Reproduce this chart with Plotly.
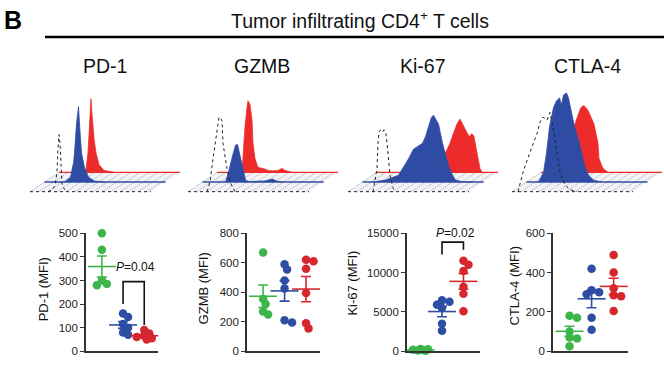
import numpy as np
import plotly.graph_objects as go

W, H = 664, 365
FONT = "Arial, 'Liberation Sans', Helvetica, sans-serif"

# ---------------- data ----------------
MARKERS = ["PD-1", "GZMB", "Ki-67", "CTLA-4"]
GROUPS = ["Group 1", "Group 2", "Group 3"]
GROUP_COLORS = ["#3DB54A", "#2D4EA2", "#D6262E"]
HIST_BLUE = "#2F4CA5"
HIST_RED = "#EE2B2B"

# scatter (MFI) values per group
PD1_G1 = [500, 430, 300, 285, 280]
PD1_G2 = [160, 145, 115, 100, 80, 70]
PD1_G3 = [90, 75, 65, 60, 55, 50]
GZMB_G1 = [670, 355, 320, 270, 250]
GZMB_G2 = [590, 555, 480, 425, 210, 195]
GZMB_G3 = [620, 610, 560, 395, 190, 155]
KI67_G1 = [300, 250, 200, 150, 100, 80]
KI67_G2 = [6500, 6300, 5900, 5500, 3500, 2600]
KI67_G3 = [11500, 11000, 10200, 8200, 7300, 5100]
CTLA4_G1 = [180, 170, 100, 70, 65, 25]
CTLA4_G2 = [420, 310, 300, 290, 170, 110]
CTLA4_G3 = [490, 400, 320, 285, 280, 205]

Y_MAX = [500, 800, 15000, 600]
Y_TICKS = [[0, 100, 200, 300, 400, 500], [0, 200, 400, 600, 800],
           [0, 5000, 10000, 15000], [0, 200, 400, 600]]
Y_TITLES = ["PD-1 (MFI)", "GZMB (MFI)", "Ki-67 (MFI)", "CTLA-4 (MFI)"]

# histograms: channel (relative fluorescence) and relative count
PD1_ISO_CH = [18, 22, 25, 27, 28, 29, 30, 31, 32, 34, 38]
PD1_ISO_H = [0, 2, 6, 20, 45, 59, 50, 25, 8, 3, 0]
PD1_BLUE_CH = [20, 26, 29, 30, 32, 34, 35, 37, 40, 44, 50, 60]
PD1_BLUE_H = [0, 5, 20, 30, 60, 78, 60, 30, 15, 5, 1, 0]
PD1_RED_CH = [22, 27, 29, 31, 32, 33, 35, 37, 40, 45, 55]
PD1_RED_H = [0, 3, 20, 55, 76, 60, 35, 20, 8, 2, 0]

GZMB_ISO_CH = [19, 22, 25, 29, 31, 34, 35, 39, 42, 47]
GZMB_ISO_H = [0, 10, 34, 64, 77, 74, 50, 24, 10, 0]
GZMB_BLUE_CH = [23, 26, 30, 33, 35, 37, 40, 43, 46, 55, 62, 66, 70, 74, 80]
GZMB_BLUE_H = [0, 10, 27, 38, 39, 30, 14, 2, 0.5, 0.5, 1, 2, 3, 1, 0]
GZMB_RED_CH = [25, 26, 28, 30, 31, 33, 35, 36, 38, 41, 46, 51, 56, 61, 65, 68, 75]
GZMB_RED_H = [0, 20, 47, 67, 74, 70, 54, 30, 14, 5, 4, 2, 1.5, 2, 4, 2, 0]

KI67_ISO_CH = [25, 29, 30, 31, 33, 35, 36, 38, 40, 42, 45, 47]
KI67_ISO_H = [0, 24, 50, 62, 64, 62, 64, 60, 40, 17, 4, 0]
KI67_BLUE_CH = [10, 23, 36, 41, 46, 51, 55, 60, 63, 66, 69, 71, 74, 76, 80, 83, 86, 90, 93, 100, 110]
KI67_BLUE_H = [0, 2, 7, 15, 24, 34, 37, 40, 47, 57, 67, 69, 64, 60, 40, 29, 17, 7, 2, 0.3, 0]
KI67_RED_CH = [60, 66, 68, 73, 76, 80, 83, 86, 90, 92, 95, 97, 100, 103, 105]
KI67_RED_H = [0, 0, 19, 30, 39, 50, 55, 49, 42, 37, 40, 37, 20, 4, 0]

CTLA4_ISO_CH = [6, 11, 16, 21, 25, 28, 31, 35, 38, 41, 45, 48, 53, 58, 65]
CTLA4_ISO_H = [0, 20, 35, 49, 60, 72, 77, 74, 82, 67, 40, 20, 7, 2, 0]
CTLA4_BLUE_CH = [12, 17, 20, 23, 27, 30, 33, 35, 37, 40, 42, 45, 48, 52, 55, 58, 62, 67, 75]
CTLA4_BLUE_H = [0, 10, 30, 57, 77, 84, 87, 80, 90, 92, 87, 70, 57, 44, 30, 17, 7, 2, 0]
CTLA4_RED_CH = [28, 33, 37, 40, 43, 47, 50, 53, 57, 58, 62, 67]
CTLA4_RED_H = [0, 47, 59, 67, 69, 64, 57, 50, 30, 14, 4, 0]

SCATTER = [[PD1_G1, PD1_G2, PD1_G3], [GZMB_G1, GZMB_G2, GZMB_G3],
           [KI67_G1, KI67_G2, KI67_G3], [CTLA4_G1, CTLA4_G2, CTLA4_G3]]
HISTS = [
    [(PD1_ISO_CH, PD1_ISO_H), (PD1_BLUE_CH, PD1_BLUE_H), (PD1_RED_CH, PD1_RED_H)],
    [(GZMB_ISO_CH, GZMB_ISO_H), (GZMB_BLUE_CH, GZMB_BLUE_H), (GZMB_RED_CH, GZMB_RED_H)],
    [(KI67_ISO_CH, KI67_ISO_H), (KI67_BLUE_CH, KI67_BLUE_H), (KI67_RED_CH, KI67_RED_H)],
    [(CTLA4_ISO_CH, CTLA4_ISO_H), (CTLA4_BLUE_CH, CTLA4_BLUE_H), (CTLA4_RED_CH, CTLA4_RED_H)],
]

# ---------------- layout helpers ----------------
def px_x(x):
    return x / W


def px_y(y):
    return 1 - y / H


def axn(kind, i):
    return kind + "axis" + ("" if i == 1 else str(i))


def ref(kind, i):
    return kind + ("" if i == 1 else str(i))


fig = go.Figure()
shapes = []
annotations = []
layout_axes = {}

# ---------- histogram panels (axes 1-4) ----------
HIST_X0 = [30, 188, 348, 512]     # px position of front baseline start
TITLE_X = [105, 262, 423, 587]
DX, DY, L = 14.5, 10, 121
for p in range(4):
    i = p + 1
    x0 = HIST_X0[p]
    left = x0 - 5
    right = min(x0 + 155, W)
    layout_axes[axn("x", i)] = dict(domain=[px_x(left), px_x(right)], range=[-5, right - x0],
                                    visible=False, fixedrange=True, anchor=ref("y", i))
    layout_axes[axn("y", i)] = dict(domain=[px_y(200), px_y(85)], range=[-8, 107],
                                    visible=False, fixedrange=True, anchor=ref("x", i))
    xr, yr = ref("x", i), ref("y", i)
    # floor
    shapes.append(dict(type="path", xref=xr, yref=yr, layer="below",
                       path=f"M 0 0 L {L} 0 L {L+2*DX} {2*DY} L {2*DX} {2*DY} Z",
                       fillcolor="rgba(234,235,240,0.6)", line=dict(width=0)))
    for s in np.arange(0, L + 1, 9):
        shapes.append(dict(type="line", xref=xr, yref=yr, layer="below",
                           x0=s, y0=0, x1=s + 2 * DX, y1=2 * DY,
                           line=dict(color="#b0b2ba", width=0.6)))
    shapes.append(dict(type="line", xref=xr, yref=yr, layer="below", x0=0, y0=0, x1=L, y1=0,
                       line=dict(color="#222", width=1, dash="dot")))
    shapes.append(dict(type="line", xref=xr, yref=yr, layer="below", x0=DX, y0=DY, x1=L + DX, y1=DY,
                       line=dict(color=HIST_BLUE, width=1.3)))
    shapes.append(dict(type="line", xref=xr, yref=yr, layer="below", x0=2 * DX, y0=2 * DY,
                       x1=L + 2 * DX, y1=2 * DY, line=dict(color=HIST_RED, width=1.3)))
    iso, blue, red = HISTS[p]
    fig.add_trace(go.Scatter(x=np.array(red[0]) + 2 * DX, y=np.array(red[1]) + 2 * DY,
                             xaxis=xr, yaxis=yr, mode="lines", fill="toself",
                             fillcolor=HIST_RED, line=dict(color=HIST_RED, width=0.8),
                             showlegend=False, hoverinfo="skip"))
    fig.add_trace(go.Scatter(x=np.array(blue[0]) + DX, y=np.array(blue[1]) + DY,
                             xaxis=xr, yaxis=yr, mode="lines", fill="toself",
                             fillcolor=HIST_BLUE, line=dict(color=HIST_BLUE, width=0.8),
                             showlegend=False, hoverinfo="skip"))
    fig.add_trace(go.Scatter(x=iso[0], y=iso[1], xaxis=xr, yaxis=yr, mode="lines",
                             line=dict(color="#222", width=1, dash="dot"),
                             showlegend=False, hoverinfo="skip"))
    annotations.append(dict(text=MARKERS[p], x=px_x(TITLE_X[p]), y=px_y(62), xref="paper", yref="paper",
                            showarrow=False, font=dict(size=19.5, color="#111", family=FONT),
                            xanchor="center", yanchor="middle"))

# ---------- scatter panels (axes 5-8) ----------
AX_X0 = [86, 247, 407, 553]
AX_X1 = [158, 320, 480, 628]
X_START = [0, 0, 0.12, 0]
YT_X = [43, 203, 353, 514]
YT_Y = [293, 292, 286, 290]
POS = [0.75, 1.75, 2.75]
XSPAN = 3.4


def swarm(values, ypx, diam=5.5, step=2.5, max_off=8.0):
    """Deterministic bee-swarm offsets (pixels) with a capped spread."""
    vals = np.asarray(values, float)
    offs = np.zeros(len(vals))
    placed = []
    cands = [0.0]
    k = 1
    while k * step <= max_off:
        cands += [k * step, -k * step]
        k += 1
    for idx in np.argsort(-vals):
        yp = vals[idx] * ypx
        best, best_d = 0.0, -1.0
        for c in cands:
            d = min([np.hypot(c - px, yp - py) for px, py in placed] or [1e9])
            if d >= diam:
                best = c
                break
            if d > best_d:
                best, best_d = c, d
        offs[idx] = best
        placed.append((best, yp))
    return offs


for p in range(4):
    i = p + 5
    xr, yr = ref("x", i), ref("y", i)
    layout_axes[axn("x", i)] = dict(domain=[px_x(AX_X0[p]), px_x(AX_X1[p])],
                                    range=[X_START[p], X_START[p] + XSPAN], anchor=yr,
                                    showline=True, linecolor="#333", linewidth=1.6,
                                    showticklabels=False, ticks="", showgrid=False,
                                    zeroline=False, fixedrange=True)
    layout_axes[axn("y", i)] = dict(domain=[px_y(357), px_y(235)], range=[0, Y_MAX[p]], anchor=xr,
                                    showline=True, linecolor="#333", linewidth=1.6,
                                    tickvals=Y_TICKS[p], ticktext=[str(t) for t in Y_TICKS[p]],
                                    ticks="outside", ticklen=4, tickwidth=1.4,
                                    tickcolor="#333", tickfont=dict(size=11.5, color="#222", family=FONT),
                                    showgrid=False, zeroline=False, fixedrange=True)
    xpx = (AX_X1[p] - AX_X0[p]) / XSPAN
    ypx = 122 / Y_MAX[p]
    for g in range(3):
        vals = SCATTER[p][g]
        offs = swarm(vals, ypx)
        fig.add_trace(go.Scatter(x=POS[g] + offs / xpx, y=vals, xaxis=xr, yaxis=yr, mode="markers",
                                 marker=dict(size=8.5, color=GROUP_COLORS[g], line=dict(width=0)),
                                 cliponaxis=False, showlegend=False, name=GROUPS[g]))
    for g in range(3):
        vals = np.asarray(SCATTER[p][g], float)
        mean = vals.mean()
        sem = vals.std(ddof=1) / np.sqrt(len(vals))
        fig.add_trace(go.Scatter(x=[POS[g]], y=[mean], xaxis=xr, yaxis=yr, mode="markers",
                                 marker=dict(symbol="line-ew", size=20,
                                             line=dict(color=GROUP_COLORS[g], width=1.6)),
                                 error_y=dict(type="data", array=[sem], color=GROUP_COLORS[g],
                                              thickness=1.6, width=5),
                                 cliponaxis=False, showlegend=False, name=GROUPS[g]))
    annotations.append(dict(text=Y_TITLES[p], x=px_x(YT_X[p]), y=px_y(YT_Y[p]), xref="paper",
                            yref="paper", textangle=-90, showarrow=False,
                            font=dict(size=13, color="#111", family=FONT),
                            xanchor="center", yanchor="middle"))

# significance brackets (bracket in data units, label in page position)
BRACKETS = [(5, 1.75, 2.75, 200, 295, 111, 135, 270, "0.04"),
            (7, 1.75, 2.75, 12300, 13880, 12900, 455, 235, "0.02")]
for (i, xa, xb, ya, ytop, yb, tx, ty, pv) in BRACKETS:
    xr, yr = ref("x", i), ref("y", i)
    shapes.append(dict(type="path", xref=xr, yref=yr,
                       path=f"M {xa} {ya} L {xa} {ytop} L {xb} {ytop} L {xb} {yb}",
                       line=dict(color="#111", width=1.6)))
    annotations.append(dict(text=f"<i>P</i>={pv}", x=px_x(tx), y=px_y(ty), xref="paper", yref="paper",
                            showarrow=False, font=dict(size=12, color="#111", family=FONT),
                            xanchor="center", yanchor="middle"))

# header
annotations.append(dict(text="<b>B</b>", x=px_x(2), y=px_y(14), xref="paper", yref="paper",
                        showarrow=False, xanchor="left", yanchor="middle",
                        font=dict(size=25, color="#000", family=FONT)))
annotations.append(dict(text="Tumor infiltrating CD4<sup>+</sup> T cells", x=px_x(360), y=px_y(14),
                        xref="paper", yref="paper", showarrow=False, xanchor="center",
                        yanchor="middle", font=dict(size=19.5, color="#111", family=FONT)))
shapes.append(dict(type="line", xref="paper", yref="paper", x0=px_x(45), x1=1.0,
                   y0=px_y(32), y1=px_y(32), line=dict(color="#000", width=2.6)))

fig.update_layout(width=W, height=H, margin=dict(l=0, r=0, t=0, b=0),
                  paper_bgcolor="white", plot_bgcolor="rgba(0,0,0,0)",
                  font=dict(family=FONT), showlegend=False,
                  shapes=shapes, annotations=annotations, **layout_axes)
fig.write_html("out.html", config={"displayModeBar": False},
               post_script="document.body.style.margin='0px';document.body.style.padding='0px';")
